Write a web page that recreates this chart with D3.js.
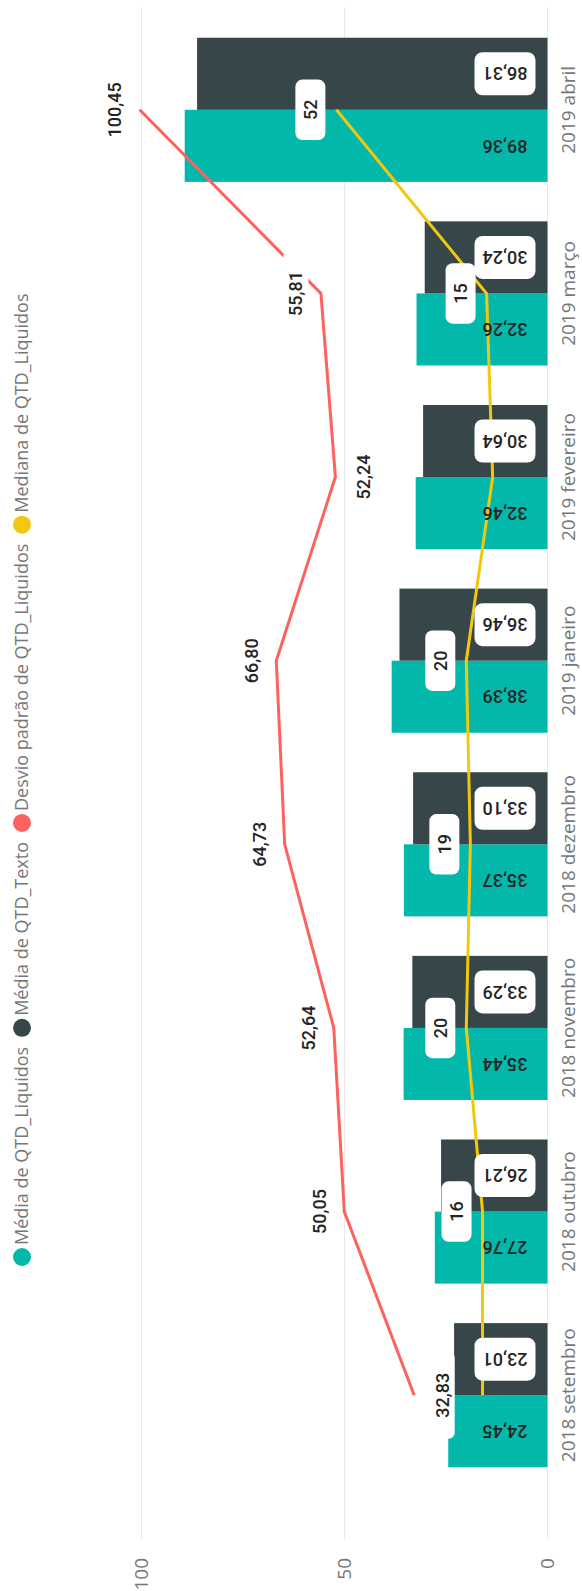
<!DOCTYPE html>
<html>
<head>
<meta charset="utf-8">
<script src="https://cdnjs.cloudflare.com/ajax/libs/d3/7.8.5/d3.min.js"></script>
<style>
  body { margin: 0; background: #fff; }
  svg { display: block; }
</style>
</head>
<body>
<div id="chart"></div>
<script>
// chart values
const categories = ["2018 setembro", "2018 outubro", "2018 novembro", "2018 dezembro",
  "2019 janeiro", "2019 fevereiro", "2019 março", "2019 abril"];
const mediaLiquidos = [24.45, 27.76, 35.44, 35.37, 38.39, 32.46, 32.26, 89.36];
const mediaTexto = [23.01, 26.21, 33.29, 33.10, 36.46, 30.64, 30.24, 86.31];
const desvioLiquidos = [32.83, 50.05, 52.64, 64.73, 66.80, 52.24, 55.81, 100.45];
const medianaLiquidos = [16, 16, 20, 19, 20, 13.5, 15, 52];
const yTicks = [0, 50, 100];
const legendLabels = ["Média de QTD_Liquidos", "Média de QTD_Texto",
  "Desvio padrão de QTD_Liquidos", "Mediana de QTD_Liquidos"];

const colors = ["#01B8AA", "#374649", "#FD625E", "#F2C80F"];
const width = 582, height = 1591;

const locale = d3.formatLocale({decimal: ",", thousands: ".", grouping: [3], currency: ["R$", ""]});
const fmt2 = locale.format(".2f");
const fmt0 = locale.format(".0f");

const svg = d3.select("#chart").append("svg")
  .attr("width", width)
  .attr("height", height);

// the chart is drawn as a normal column chart, then turned a quarter left
const g = svg.append("g")
  .attr("transform", "translate(0," + height + ") rotate(-90)");

const x = d3.scaleBand()
  .domain(categories)
  .range([104, 1573])
  .paddingInner(0.215)
  .paddingOuter(0.1075);

const y = d3.scaleLinear()
  .domain([0, 100])
  .range([547.5, 141.5]);

const bw = x.bandwidth();
const cx = c => x(c) + bw / 2;

// gridlines
g.selectAll(".grid")
  .data(yTicks)
  .enter().append("line")
  .attr("x1", 52).attr("x2", 1584)
  .attr("y1", d => y(d)).attr("y2", d => y(d))
  .attr("stroke", "#e8e8e8")
  .attr("stroke-width", 1);

// value axis labels
g.selectAll(".tick")
  .data(yTicks)
  .enter().append("text")
  .attr("x", 33)
  .attr("y", d => y(d))
  .attr("dy", "0.35em")
  .attr("text-anchor", "end")
  .style("font-family", "'Open Sans', sans-serif")
  .style("font-size", "19px")
  .attr("fill", "#777")
  .text(d => d);

// category labels
g.selectAll(".cat")
  .data(categories)
  .enter().append("text")
  .attr("x", d => cx(d))
  .attr("y", 575)
  .attr("text-anchor", "middle")
  .style("font-family", "'Open Sans', sans-serif")
  .style("font-size", "19px")
  .attr("fill", "#777")
  .text(d => d);

// bars
const series = [mediaLiquidos, mediaTexto];
series.forEach((vals, s) => {
  g.selectAll(".bar" + s)
    .data(vals)
    .enter().append("rect")
    .attr("x", (d, i) => x(categories[i]) + s * bw / 2)
    .attr("width", bw / 2)
    .attr("y", d => y(d))
    .attr("height", d => y(0) - y(d))
    .attr("fill", colors[s]);
});

// lines
const line = d3.line()
  .x((d, i) => cx(categories[i]))
  .y(d => y(d));

g.append("path")
  .datum(desvioLiquidos)
  .attr("d", line)
  .attr("fill", "none")
  .attr("stroke", colors[2])
  .attr("stroke-width", 3);

g.append("path")
  .datum(medianaLiquidos)
  .attr("d", line)
  .attr("fill", "none")
  .attr("stroke", colors[3])
  .attr("stroke-width", 3);

const labelFont = (sel) => sel
  .style("font-family", "Roboto, sans-serif")
  .style("font-size", "18px")
  .style("font-weight", 500)
  .attr("fill", "#252423");

// bar value labels (turned upside down, like the picture)
series.forEach((vals, s) => {
  vals.forEach((v, i) => {
    const lg = g.append("g")
      .attr("transform", "translate(" + (x(categories[i]) + s * bw / 2 + bw / 4) + ",505) rotate(-90)");
    const t = lg.append("text")
      .attr("text-anchor", "middle")
      .attr("dy", "0.35em")
      .call(labelFont)
      .text(fmt2(v));
    if (s === 1) {
      const tw = t.node().getComputedTextLength();
      lg.insert("rect", "text")
        .attr("x", -(tw + 16) / 2)
        .attr("y", -21.5)
        .attr("width", tw + 16)
        .attr("height", 43)
        .attr("rx", 8)
        .attr("fill", "#fff");
    }
  });
});

// std dev labels, most above the point, two below
const below = [0, 5];
desvioLiquidos.forEach((v, i) => {
  const off = below.includes(i) ? 28 : -25;
  const lg = g.append("g")
    .attr("transform", "translate(" + cx(categories[i]) + "," + (y(v) + off) + ")");
  const t = lg.append("text")
    .attr("text-anchor", "middle")
    .attr("dy", "0.35em")
    .call(labelFont)
    .text(fmt2(v));
  const tw = t.node().getComputedTextLength();
  lg.insert("rect", "text")
    .attr("x", -(tw + 42) / 2)
    .attr("y", -12.5)
    .attr("width", tw + 42)
    .attr("height", 25)
    .attr("rx", 6)
    .attr("fill", "#fff");
});

// median labels in white boxes; two are hidden in the picture
const hiddenMedian = [0, 5];
medianaLiquidos.forEach((v, i) => {
  if (hiddenMedian.includes(i)) return;
  const lg = g.append("g")
    .attr("transform", "translate(" + cx(categories[i]) + "," + (y(v) - 26) + ")");
  const t = lg.append("text")
    .attr("text-anchor", "middle")
    .attr("dy", "0.35em")
    .call(labelFont)
    .text(fmt0(v));
  const tw = t.node().getComputedTextLength();
  lg.insert("rect", "text")
    .attr("x", -(tw + 40) / 2)
    .attr("y", -15)
    .attr("width", tw + 40)
    .attr("height", 30)
    .attr("rx", 7)
    .attr("fill", "#fff");
});

// legend
const leg = g.append("g").attr("transform", "translate(0,22)");
let lx = 334;
legendLabels.forEach((name, i) => {
  leg.append("circle")
    .attr("cx", lx)
    .attr("cy", 0)
    .attr("r", 9)
    .attr("fill", colors[i]);
  const t = leg.append("text")
    .attr("x", lx + 12)
    .attr("y", 0)
    .attr("dy", "0.35em")
    .style("font-family", "'Open Sans', sans-serif")
    .style("font-size", "18px")
    .attr("fill", "#777")
    .text(name);
  lx += 12 + t.node().getComputedTextLength() + 19;
});
</script>
</body>
</html>
